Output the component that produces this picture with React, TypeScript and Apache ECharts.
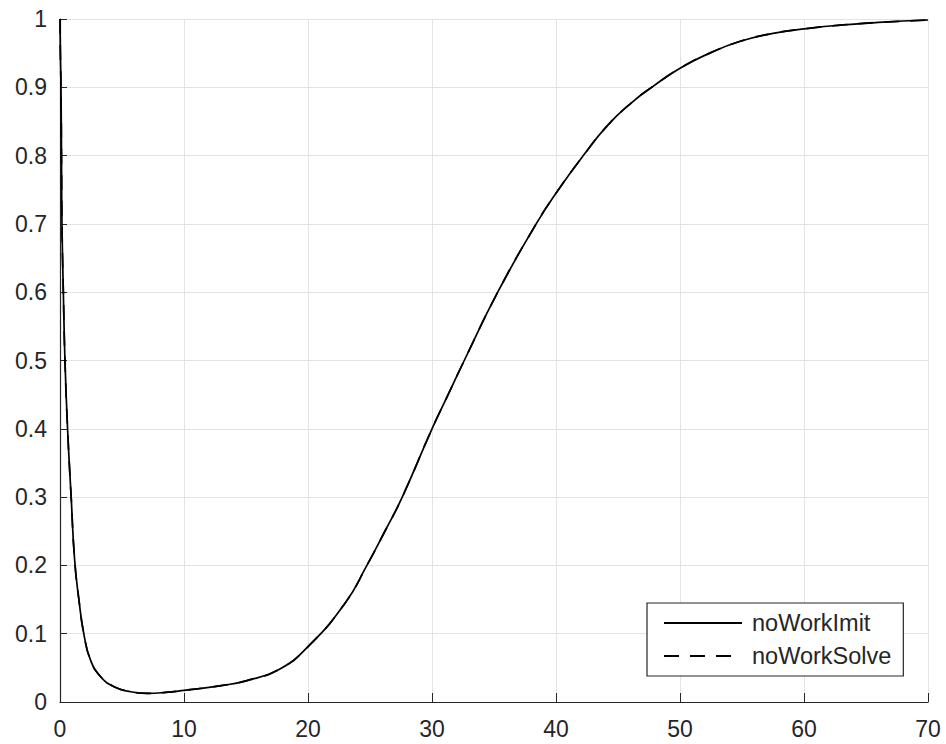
import React, { useEffect, useRef } from "react";
import * as echarts from "echarts";

const xValues = [0, 0.03, 0.08, 0.12, 0.16, 0.27, 0.4, 0.61, 0.9, 1.18, 1.53, 1.94, 2.47, 3.28, 4.36, 5.7, 7.05, 8.5, 10, 13, 15, 17.7, 20, 23, 24.75, 26.2, 27.6, 30, 31.3, 32.6, 35.3, 38.4, 40, 42.2, 44.2, 46.2, 47.8, 50, 52.4, 54.8, 57.5, 60.2, 62.9, 66, 70];
const imitValues = [1, 0.95, 0.9, 0.8, 0.7, 0.6, 0.5, 0.4, 0.3, 0.208, 0.149, 0.098, 0.061, 0.037, 0.0224, 0.015, 0.0127, 0.014, 0.017, 0.024, 0.031, 0.048, 0.081, 0.145, 0.2, 0.25, 0.3, 0.4, 0.45, 0.5, 0.6, 0.7, 0.745, 0.8, 0.845, 0.879, 0.901, 0.928, 0.95, 0.967, 0.979, 0.986, 0.991, 0.995, 0.9985];
const solveValues = [1, 0.95, 0.9, 0.8, 0.7, 0.6, 0.5, 0.4, 0.3, 0.208, 0.149, 0.098, 0.061, 0.037, 0.0224, 0.015, 0.0127, 0.014, 0.017, 0.024, 0.031, 0.048, 0.081, 0.145, 0.2, 0.25, 0.3, 0.4, 0.45, 0.5, 0.6, 0.7, 0.745, 0.8, 0.845, 0.879, 0.901, 0.928, 0.95, 0.967, 0.979, 0.986, 0.991, 0.995, 0.9985];
const seriesNames = ["noWorkImit", "noWorkSolve"];

const FONT = "'Liberation Sans', Arial, Helvetica, sans-serif";
const TEXT = "#262626";

export default function App() {
  const ref = useRef<HTMLDivElement>(null);
  useEffect(() => {
    if (!ref.current) return;
    const chart = echarts.init(ref.current, undefined, { renderer: "svg" });
    const toPairs = (ys: number[]) => xValues.map((x, i) => [x, ys[i]]);
    chart.setOption({
      animation: false,
      backgroundColor: "#ffffff",
      textStyle: { fontFamily: FONT },
      grid: { left: 60, right: 18, top: 19, bottom: 42, containLabel: false },
      xAxis: {
        type: "value",
        min: 0,
        max: 70,
        interval: 10,
        axisLine: { show: true, lineStyle: { color: TEXT, width: 1.2 } },
        axisTick: { show: true, inside: true, length: 9, lineStyle: { color: TEXT } },
        axisLabel: { color: TEXT, fontSize: 23, fontFamily: FONT, margin: 15 },
        splitLine: { show: true, lineStyle: { color: "#e3e3e3", width: 1 } },
      },
      yAxis: {
        type: "value",
        min: 0,
        max: 1,
        interval: 0.1,
        axisLine: { show: true, lineStyle: { color: TEXT, width: 1.2 } },
        axisTick: { show: true, inside: true, length: 7, lineStyle: { color: TEXT } },
        axisLabel: { color: TEXT, fontSize: 23, fontFamily: FONT, margin: 13, padding: [3, 0, 0, 0] },
        splitLine: { show: true, lineStyle: { color: "#e3e3e3", width: 1 } },
      },
      legend: {
        orient: "vertical",
        left: 647,
        top: 603,
        padding: [8, 12, 8, 16],
        itemWidth: 78,
        itemHeight: 14,
        itemGap: 9,
        borderColor: TEXT,
        borderWidth: 1.2,
        backgroundColor: "#ffffff",
        itemStyle: { opacity: 0, borderWidth: 0 },
        textStyle: { color: TEXT, fontSize: 23.5, fontFamily: FONT, padding: [0, 0, 0, 5] },
        data: seriesNames,
      },
      series: [
        {
          name: seriesNames[0],
          type: "line",
          data: toPairs(imitValues),
          symbol: "none",
          showSymbol: false,
          smooth: 0.5,
          lineStyle: { color: "#000000", width: 1.7, type: "solid" },
          itemStyle: { color: "#000000" },
        },
        {
          name: seriesNames[1],
          type: "line",
          data: toPairs(solveValues),
          symbol: "none",
          showSymbol: false,
          smooth: 0.5,
          lineStyle: { color: "#000000", width: 1.7, type: [15, 11] },
          itemStyle: { color: "#000000" },
        },
      ],
    });
    return () => chart.dispose();
  }, []);
  return (
    <div
      ref={ref}
      style={{ position: "absolute", left: 0, top: 0, width: 946, height: 744, background: "#fff" }}
    />
  );
}
